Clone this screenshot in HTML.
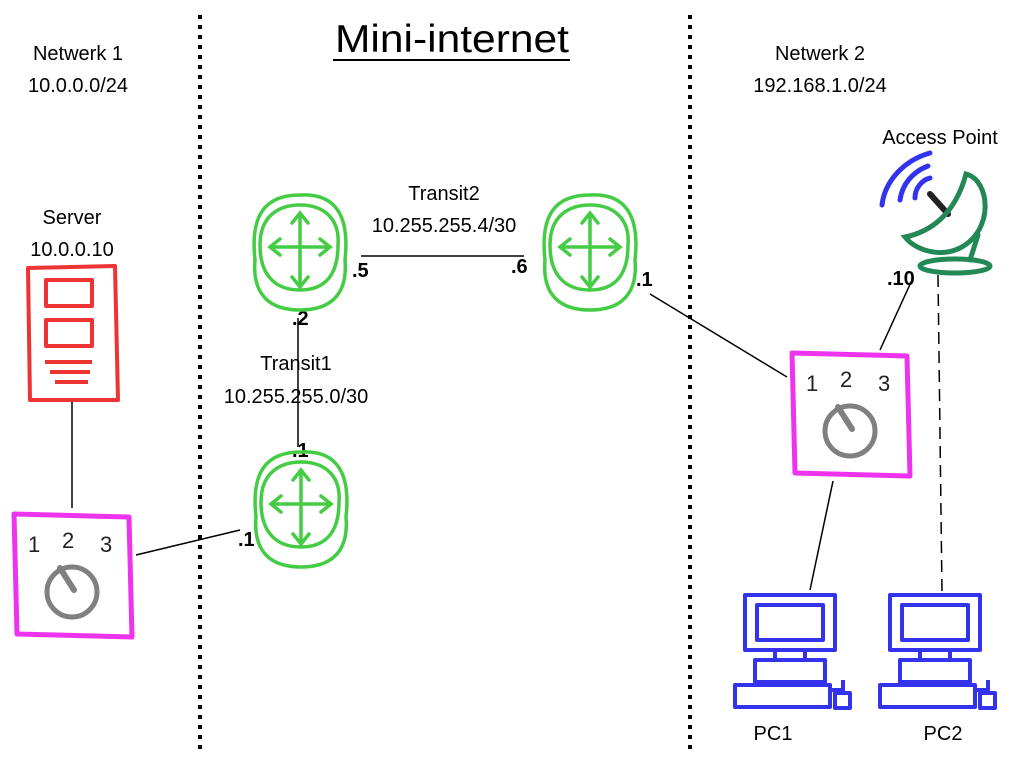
<!DOCTYPE html>
<html><head><meta charset="utf-8"><style>
html,body{margin:0;padding:0;background:#fff;}
svg{display:block;font-family:"Liberation Sans",sans-serif;}
</style></head><body>
<svg width="1024" height="765" viewBox="0 0 1024 765" xmlns="http://www.w3.org/2000/svg">
<defs>
<g id="router" fill="none" stroke="#44cc44" stroke-width="3.5" stroke-linecap="round">
  <path d="M-45,5 C-50,-40 -35,-60 0,-60 C35,-62 50,-40 45,5 C48,40 30,55 0,55 C-30,55 -48,40 -45,5 Z"/>
  <path d="M-40,-10 C-40,-40 -20,-50 0,-50 C25,-50 40,-35 38,-10 C38,20 25,35 0,35 C-25,35 -40,20 -40,-10 Z"/>
  <path d="M0,-40 L0,30 M-8,-32 L0,-42 L8,-32 M-8,22 L0,32 L8,22 M-28,-8 L28,-8 M-20,-16 L-30,-8 L-20,0 M20,-16 L30,-8 L20,0"/>
</g>
<g id="switch">
  <path d="M0,0 L115,3 L118,123 L3,120 Z" fill="none" stroke="#ee33ee" stroke-width="5" stroke-linejoin="round"/>
  <text x="14" y="38" font-size="22" fill="#222">1</text>
  <text x="48" y="34" font-size="22" fill="#222">2</text>
  <text x="86" y="38" font-size="22" fill="#222">3</text>
  <circle cx="58" cy="78" r="25" fill="none" stroke="#808080" stroke-width="5"/>
  <line x1="46" y1="54" x2="60" y2="76" stroke="#808080" stroke-width="6" stroke-linecap="round"/>
</g>
<g id="pc" fill="none" stroke="#3333ee" stroke-width="4" stroke-linejoin="round">
  <rect x="10" y="0" width="90" height="55"/>
  <rect x="22" y="10" width="66" height="35"/>
  <rect x="40" y="55" width="30" height="10"/>
  <rect x="20" y="65" width="70" height="22"/>
  <rect x="0" y="90" width="95" height="22"/>
  <path d="M95,95 L108,95 L108,85"/>
  <rect x="100" y="98" width="15" height="15"/>
</g>
</defs>

<line x1="200" y1="15" x2="200" y2="752" stroke="#000" stroke-width="4" stroke-dasharray="4,6"/>
<line x1="690" y1="15" x2="690" y2="752" stroke="#000" stroke-width="4" stroke-dasharray="4,6"/>

<text x="452" y="52" font-size="39" text-anchor="middle" fill="#000" textLength="234" lengthAdjust="spacingAndGlyphs">Mini-internet</text>
<line x1="333" y1="60" x2="570" y2="60" stroke="#000" stroke-width="2"/>
<text x="78" y="60" font-size="20" text-anchor="middle">Netwerk 1</text>
<text x="78" y="92" font-size="20" text-anchor="middle">10.0.0.0/24</text>
<text x="820" y="60" font-size="20" text-anchor="middle">Netwerk 2</text>
<text x="820" y="92" font-size="20" text-anchor="middle">192.168.1.0/24</text>
<text x="72" y="224" font-size="20" text-anchor="middle">Server</text>
<text x="72" y="256" font-size="20" text-anchor="middle">10.0.0.10</text>
<text x="940" y="144" font-size="20" text-anchor="middle">Access Point</text>
<text x="444" y="200" font-size="20" text-anchor="middle">Transit2</text>
<text x="444" y="232" font-size="20" text-anchor="middle">10.255.255.4/30</text>
<text x="296" y="370" font-size="20" text-anchor="middle">Transit1</text>
<text x="296" y="403" font-size="20" text-anchor="middle">10.255.255.0/30</text>
<text x="773" y="740" font-size="20" text-anchor="middle">PC1</text>
<text x="943" y="740" font-size="20" text-anchor="middle">PC2</text>

<g stroke="#000" stroke-width="1.5" fill="none">
<line x1="361" y1="256" x2="524" y2="256"/>
<line x1="298" y1="318" x2="298" y2="447"/>
<line x1="72" y1="400" x2="72" y2="508"/>
<line x1="136" y1="555" x2="240" y2="530"/>
<line x1="650" y1="294" x2="787" y2="377"/>
<line x1="880" y1="350" x2="912" y2="280"/>
<line x1="833" y1="481" x2="810" y2="590"/>
<line x1="938" y1="275" x2="942" y2="592" stroke-dasharray="12,7"/>
</g>

<g font-size="20" font-weight="bold">
<text x="352" y="277">.5</text>
<text x="511" y="273">.6</text>
<text x="636" y="286">.1</text>
<text x="292" y="325">.2</text>
<text x="292" y="457">.1</text>
<text x="238" y="546">.1</text>
<text x="887" y="285">.10</text>
</g>

<use href="#router" x="300" y="255"/>
<use href="#router" x="590" y="255"/>
<use href="#router" x="301" y="512"/>

<g fill="none" stroke="#ee3333" stroke-width="4" stroke-linejoin="round">
<path d="M28,268 L115,266 L118,400 L30,400 Z"/>
<rect x="46" y="280" width="46" height="26"/>
<rect x="46" y="320" width="46" height="26"/>
<path d="M45,362 L92,362 M50,372 L90,372 M55,382 L88,382"/>
</g>

<use href="#switch" x="14" y="514"/>
<use href="#switch" x="792" y="353"/>

<use href="#pc" x="735" y="595"/>
<use href="#pc" x="880" y="595"/>

<g fill="none" stroke-linecap="round">
<path d="M882,205 C885,180 905,160 930,153" stroke="#3333ee" stroke-width="5"/>
<path d="M900,200 C902,185 912,172 928,166" stroke="#3333ee" stroke-width="5"/>
<path d="M915,198 C915,188 922,180 930,178" stroke="#3333ee" stroke-width="5"/>
<line x1="930" y1="194" x2="948" y2="214" stroke="#222" stroke-width="6"/>
<path d="M966,174 C990,180 995,230 960,248 C940,258 915,250 905,237 C930,232 955,215 966,174 Z" stroke="#228855" stroke-width="5"/>
<path d="M978,235 L970,260" stroke="#228855" stroke-width="5"/>
<ellipse cx="955" cy="266" rx="35" ry="7" stroke="#228855" stroke-width="5"/>
</g>
</svg>
</body></html>
